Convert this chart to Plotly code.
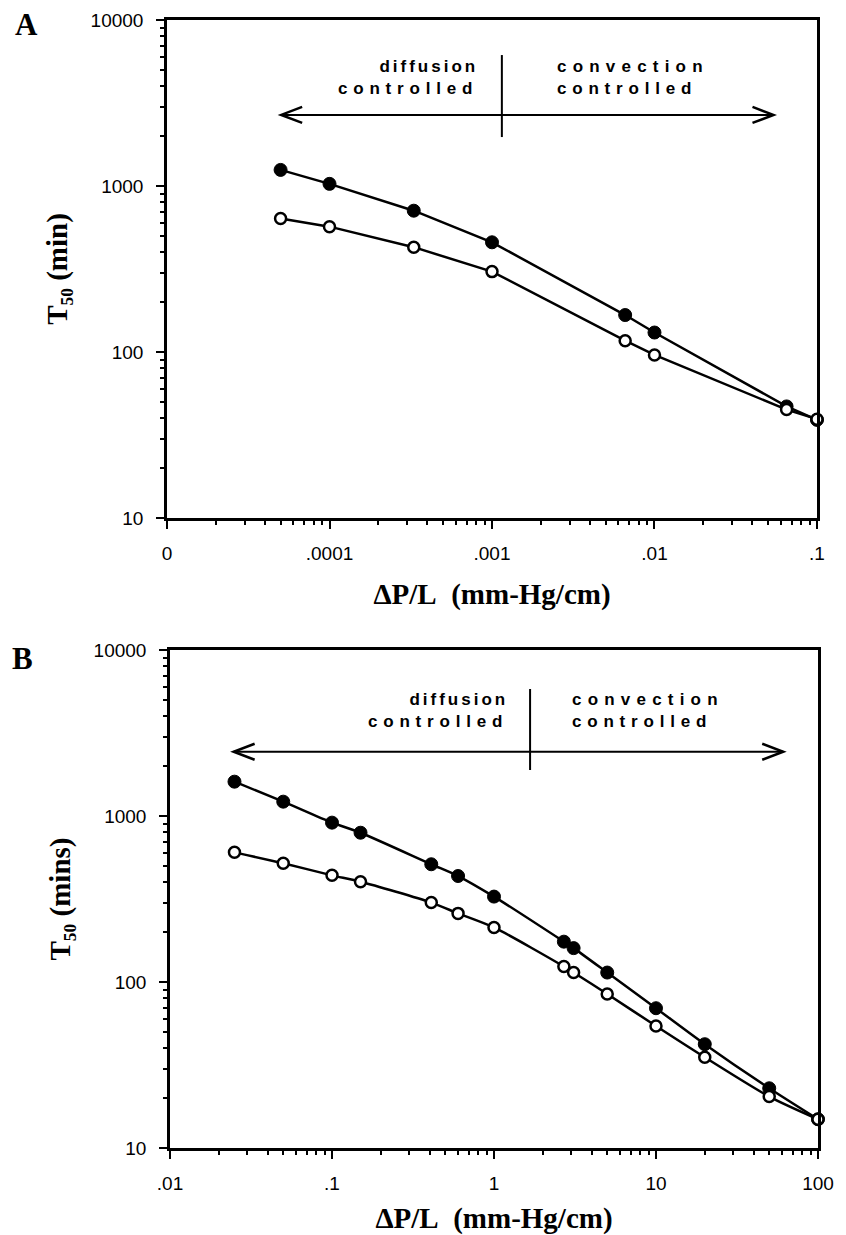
import math
import plotly.graph_objects as go

# ---------------- data ----------------
# Panel A
a_x = [5e-5, 1e-4, 3.3e-4, 1e-3, 6.6e-3, 1e-2, 6.5e-2, 0.1]
a_filled = [1250, 1030, 710, 458, 167, 131, 47, 39]
a_open = [638, 569, 428, 305, 117, 96, 45, 39.4]

# Panel B
b_x = [0.025, 0.05, 0.1, 0.15, 0.41, 0.6, 1, 2.7, 3.1, 5, 10, 20, 50, 100]
b_filled = [1610, 1220, 912, 793, 512, 435, 327, 175, 160, 114, 69.5, 42.2, 22.9, 14.9]
b_open = [604, 519, 439, 402, 301, 259, 213, 124, 114, 84.7, 54.3, 35.2, 20.4, 14.9]

# tick labels
a_xtickvals = [1e-5, 1e-4, 1e-3, 1e-2, 1e-1]
a_xticktext = ["0", ".0001", ".001", ".01", ".1"]
b_xtickvals = [0.01, 0.1, 1, 10, 100]
b_xticktext = [".01", ".1", "1", "10", "100"]
y_tickvals = [10, 100, 1000, 10000]
y_ticktext = ["10", "100", "1000", "10000"]

# regime annotations (data units)
a_divider_x = 1.15e-3
a_divider_y = (1972, 6150)
a_arrow_y = 2680
a_arrow_x = (5.04e-5, 0.054)
a_text_y = 10 ** 3.651
a_text_split = (10 ** -3.074, 10 ** -2.612)

b_divider_x = 1.67
b_divider_y = (1892, 5820)
b_arrow_y = 2439
b_arrow_x = (0.0247, 61)
b_text_y = 10 ** 3.633
b_text_split = (10 ** 0.099, 10 ** 0.469)

W, H = 846, 1235
SERIF = "Liberation Serif, Times New Roman, serif"
SANS = "Liberation Sans, Arial, sans-serif"
BLACK = "#000000"
EPS = 1e-4  # tiny range padding so edge points are not hidden

fig = go.Figure()


def add_series(x, y, filled, xa, ya, spline):
    fig.add_trace(go.Scatter(
        x=x, y=y, mode="lines+markers", xaxis=xa, yaxis=ya,
        line=dict(color=BLACK, width=2.5, shape="spline" if spline else "linear",
                  smoothing=0.7 if spline else None),
        marker=dict(size=13 if filled else 11, symbol="circle",
                    color=BLACK if filled else "#ffffff",
                    line=dict(color=BLACK, width=1 if filled else 2.5)),
        cliponaxis=False, showlegend=False, hoverinfo="skip"))


add_series(a_x, a_filled, True, "x", "y", False)
add_series(a_x, a_open, False, "x", "y", False)
add_series(b_x, b_filled, True, "x2", "y2", True)
add_series(b_x, b_open, False, "x2", "y2", True)

title_font = dict(family=SERIF, size=29, color=BLACK, weight="bold")

axis_common = dict(
    type="log", showline=True, linecolor=BLACK, linewidth=2.5, mirror=True,
    ticks="outside", ticklen=8, tickwidth=2, tickcolor=BLACK,
    showgrid=False, zeroline=False, automargin=False,
    tickfont=dict(family=SANS, size=19, color=BLACK),
    minor=dict(ticks="outside", ticklen=4, tickwidth=1.5, tickcolor=BLACK,
               dtick="D1", showgrid=False),
)

x_title = "ΔP/L\u00a0 (mm-Hg/cm)"

fig.update_layout(
    width=W, height=H, margin=dict(l=0, r=0, t=0, b=0, pad=0),
    paper_bgcolor="white", plot_bgcolor="white", showlegend=False,
    xaxis=dict(axis_common, domain=[167 / W, 817 / W], anchor="y",
               range=[-5 - EPS, -1 + EPS], tickvals=a_xtickvals, ticktext=a_xticktext,
               ticklabelstandoff=8,
               title=dict(text=x_title, font=title_font, standoff=22)),
    yaxis=dict(axis_common, domain=[1 - 518 / H, 1 - 20 / H], anchor="x",
               range=[1, 4], tickvals=y_tickvals, ticktext=y_ticktext,
               ticklabelstandoff=9,
               title=dict(text="T₅₀ (min)", font=title_font, standoff=15)),
    xaxis2=dict(axis_common, domain=[170 / W, 818 / W], anchor="y2",
                range=[-2 - EPS, 2 + EPS], tickvals=b_xtickvals, ticktext=b_xticktext,
                ticklabelstandoff=8,
                title=dict(text=x_title, font=title_font, standoff=22)),
    yaxis2=dict(axis_common, domain=[1 - 1148 / H, 1 - 650 / H], anchor="x2",
                range=[1, 4], tickvals=y_tickvals, ticktext=y_ticktext,
                ticklabelstandoff=9,
                title=dict(text="T₅₀ (mins)", font=title_font, standoff=15)),
)

shapes = []
annotations = []


def regime(xref, yref, div_x, div_y, arr_y, arr_x, text_y, split):
    line = dict(color=BLACK, width=2)
    shapes.append(dict(type="line", xref=xref, yref=yref, x0=div_x, x1=div_x,
                       y0=div_y[0], y1=div_y[1], line=line))
    shapes.append(dict(type="line", xref=xref, yref=yref, x0=arr_x[0], x1=arr_x[1],
                       y0=arr_y, y1=arr_y, line=line))
    shapes.append(dict(type="path", xref=xref, yref=yref, xsizemode="pixel",
                       ysizemode="pixel", xanchor=arr_x[0], yanchor=arr_y,
                       path="M21,-8L0,0L21,8", line=dict(color=BLACK, width=2.5)))
    shapes.append(dict(type="path", xref=xref, yref=yref, xsizemode="pixel",
                       ysizemode="pixel", xanchor=arr_x[1], yanchor=arr_y,
                       path="M-21,-8L0,0L-21,8", line=dict(color=BLACK, width=2.5)))
    font = dict(family=SANS, size=17, color=BLACK, weight="bold")
    annotations.append(dict(
        xref=xref, yref=yref, x=math.log10(split[0]), y=math.log10(text_y),
        xanchor="right", yanchor="middle", align="right", showarrow=False,
        text='<span style="letter-spacing:3px">diffusion</span><br>'
             '<span style="letter-spacing:5.8px">controlled</span>',
        font=font))
    annotations.append(dict(
        xref=xref, yref=yref, x=math.log10(split[1]), y=math.log10(text_y),
        xanchor="left", yanchor="middle", align="left", showarrow=False,
        text='<span style="letter-spacing:6.2px">convection</span><br>'
             '<span style="letter-spacing:5.8px">controlled</span>',
        font=font))


regime("x", "y", a_divider_x, a_divider_y, a_arrow_y, a_arrow_x, a_text_y, a_text_split)
regime("x2", "y2", b_divider_x, b_divider_y, b_arrow_y, b_arrow_x, b_text_y, b_text_split)

# panel labels
label_font = dict(family=SERIF, size=31, color=BLACK, weight="bold")
annotations.append(dict(xref="paper", yref="paper", x=27 / W, y=1 - 25 / H,
                        text="A", showarrow=False, xanchor="center", yanchor="middle",
                        font=label_font))
annotations.append(dict(xref="paper", yref="paper", x=22 / W, y=1 - 658 / H,
                        text="B", showarrow=False, xanchor="center", yanchor="middle",
                        font=label_font))

fig.update_layout(shapes=shapes, annotations=annotations)
fig.write_html("out.html")
